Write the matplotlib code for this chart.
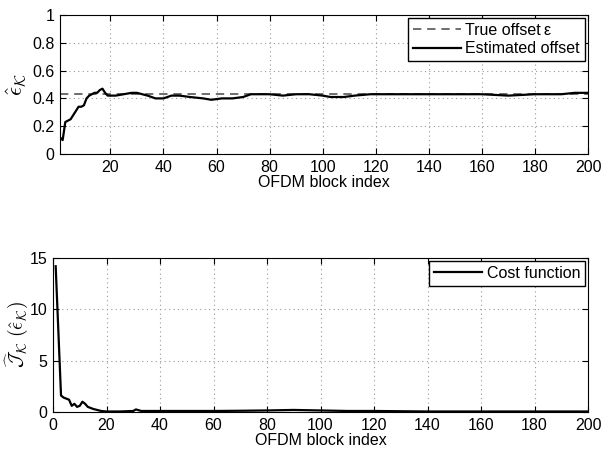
import numpy as np
import matplotlib.pyplot as plt

plt.rcParams['font.family'] = ['Liberation Sans', 'DejaVu Sans']
plt.rcParams['mathtext.fontset'] = 'cm'

# estimated offset (block index, value)
est_x = [1, 2, 3, 4, 5, 6, 7, 8, 9, 10, 11, 12, 13, 14, 15, 16, 17, 18, 19, 20,
         22, 25, 28, 30, 32, 34, 37, 40, 43, 46, 50, 55, 58, 62, 66, 70, 73,
         80, 85, 90, 95, 100, 103, 108, 112, 118, 125, 130, 140, 150, 160,
         170, 180, 190, 195, 200]
est_y = [0.12, 0.10, 0.23, 0.24, 0.25, 0.28, 0.31, 0.34, 0.34, 0.35, 0.40, 0.42,
         0.43, 0.44, 0.44, 0.46, 0.47, 0.44, 0.42, 0.42, 0.42, 0.43, 0.44, 0.44,
         0.43, 0.42, 0.40, 0.40, 0.42, 0.42, 0.41, 0.40, 0.39, 0.40, 0.40, 0.41,
         0.43, 0.43, 0.42, 0.43, 0.43, 0.42, 0.41, 0.41, 0.42, 0.43, 0.43, 0.43,
         0.43, 0.43, 0.43, 0.42, 0.43, 0.43, 0.44, 0.44]
true_offset = 0.43

# cost function
cost_x = [1, 3, 4, 5, 6, 7, 8, 9, 10, 11, 12, 13, 15, 18, 20, 25, 30, 31, 33,
          40, 50, 60, 70, 80, 90, 100, 110, 120, 140, 160, 180, 200]
cost_y = [14.2, 1.6, 1.4, 1.3, 1.2, 0.6, 0.8, 0.5, 0.6, 1.0, 0.8, 0.5, 0.3, 0.1,
          0.05, 0.05, 0.1, 0.25, 0.1, 0.1, 0.1, 0.1, 0.12, 0.15, 0.2, 0.15,
          0.1, 0.1, 0.05, 0.05, 0.05, 0.05]

fig = plt.figure(figsize=(6.05, 4.5), dpi=100)
ax1 = fig.add_axes([60/605, 1-154/450, 528/605, 139/450])
ax2 = fig.add_axes([53/605, 1-412/450, 535/605, 154/450])

fs = 11.5

ax1.plot([1, 200], [true_offset, true_offset], color='#555555', lw=1.2,
         dashes=(5, 3.5), label='True offset\u2009\u03b5')
ax1.plot(est_x, est_y, '-', color='black', lw=1.6, label='Estimated offset')
ax1.set_xlim(1, 200)
ax1.set_ylim(0, 1)
ax1.set_xticks(np.arange(20, 201, 20))
ax1.set_yticks([0, 0.2, 0.4, 0.6, 0.8, 1])
ax1.set_yticklabels(['0', '0.2', '0.4', '0.6', '0.8', '1'])
ax1.set_xlabel('OFDM block index', fontsize=fs, labelpad=0)
ax1.set_ylabel(r'$\hat{\epsilon}_{\mathcal{K}}$', fontsize=16, labelpad=2)
ax1.legend(loc='upper right', fontsize=fs, fancybox=False, edgecolor='black',
           framealpha=1, borderpad=0.3, labelspacing=0.2, handlelength=3.0,
           handletextpad=0.3, borderaxespad=0.2)

ax2.plot(cost_x, cost_y, '-', color='black', lw=1.6, label='Cost function')
ax2.set_xlim(0, 200)
ax2.set_ylim(0, 15)
ax2.set_xticks(np.arange(0, 201, 20))
ax2.set_yticks([0, 5, 10, 15])
ax2.set_xlabel('OFDM block index', fontsize=fs, labelpad=0)
ax2.set_ylabel(r'$\widehat{\mathcal{J}}_{\mathcal{K}}\ (\hat{\epsilon}_{\mathcal{K}})$',
               fontsize=14)
ax2.yaxis.set_label_coords(-22/535, 0.5)
ax2.legend(loc='upper right', fontsize=fs, fancybox=False, edgecolor='black',
           framealpha=1, borderpad=0.3, handlelength=3.0, handletextpad=0.3,
           borderaxespad=0.2)

for ax in (ax1, ax2):
    ax.grid(True, color='#999999', lw=0.8, dashes=(1, 3))
    ax.tick_params(direction='in', top=True, right=True, labelsize=fs,
                   length=4, pad=4)
    for s in ax.spines.values():
        s.set_linewidth(0.8)

fig.savefig('out.png', dpi=100)
